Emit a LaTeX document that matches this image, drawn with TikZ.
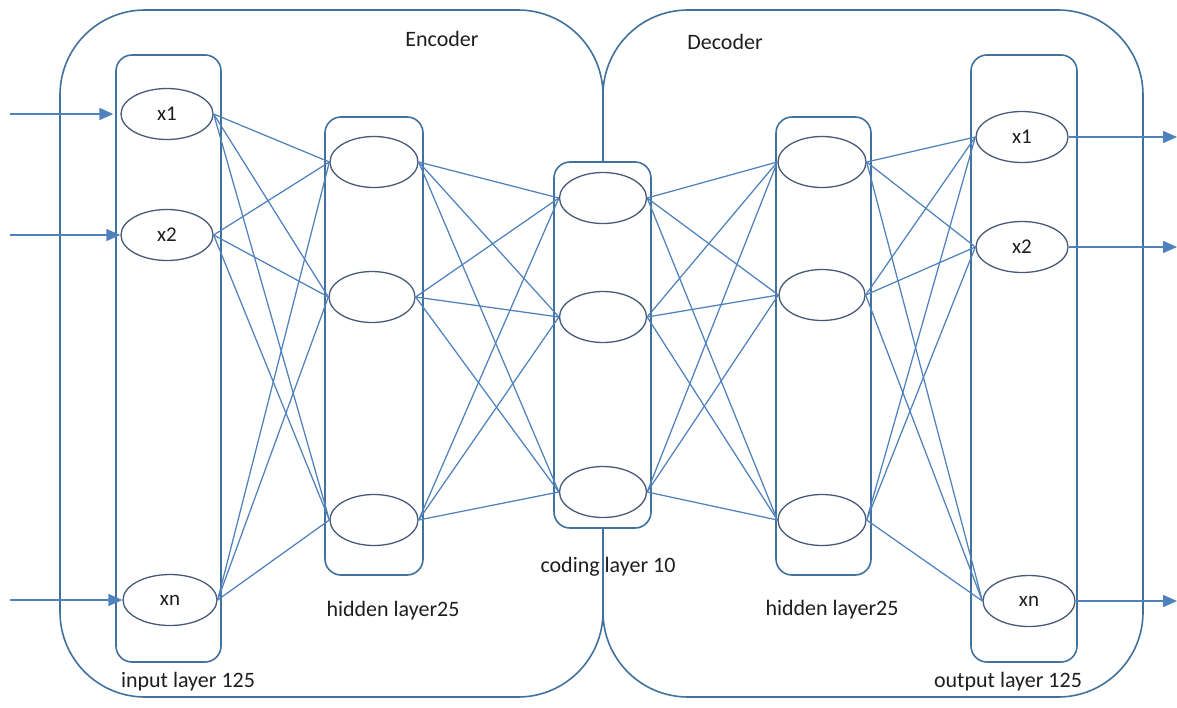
\documentclass[tikz,border=0pt]{standalone}
\usepackage{fontspec}
\setmainfont{Carlito}
\usetikzlibrary{shapes.geometric,arrows.meta}
\definecolor{boxc}{RGB}{65,113,156}
\definecolor{linec}{RGB}{79,129,189}
\definecolor{ellc}{RGB}{72,90,120}
\definecolor{txtc}{RGB}{30,30,30}
\begin{document}
\begin{tikzpicture}[x=1pt,y=-1pt,
  neuron/.style={ellipse, draw=ellc, line width=1.3pt, minimum width=90pt, minimum height=51pt, inner sep=0pt, fill=white, text=txtc, font=\fontsize{21}{23}\selectfont},
  layerbox/.style={draw=boxc, line width=1.6pt, rounded corners=16pt, fill=white},
  bigbox/.style={draw=boxc, line width=1.6pt, rounded corners=85pt},
  conn/.style={draw=linec, line width=1.25pt},
  io/.style={draw=linec, line width=1.6pt, -{Triangle[length=14pt,width=12pt]}},
  lbl/.style={font=\fontsize{22}{24}\selectfont, text=txtc, inner sep=0pt}]
\useasboundingbox (0,0) rectangle (1177,707);
% big encoder / decoder frames
\draw[bigbox] (60,10) rectangle (603,697);
\draw[bigbox] (603,10) rectangle (1143,697);
% layer boxes
\draw[layerbox] (116,55) rectangle (221,662);
\draw[layerbox] (325,117) rectangle (423,575);
\draw[layerbox] (554,162) rectangle (651,528);
\draw[layerbox] (776,117) rectangle (871,575);
\draw[layerbox] (971,55) rectangle (1077,662);
% neurons
\node[neuron, minimum width=92pt] (in1) at (167,114) {x1};
\node[neuron, minimum width=92pt] (in2) at (167,235) {x2};
\node[neuron, minimum width=94pt] (inn) at (170,600) {xn};
\node[neuron, minimum width=88pt] (h1a) at (374,162) {};
\node[neuron, minimum width=86pt] (h1b) at (372,297) {};
\node[neuron, minimum width=88pt] (h1c) at (374,520) {};
\node[neuron, minimum width=87pt] (c1) at (603,198) {};
\node[neuron, minimum width=87pt] (c2) at (603,317) {};
\node[neuron, minimum width=87pt] (c3) at (603,492) {};
\node[neuron, minimum width=88pt] (h2a) at (822,162) {};
\node[neuron, minimum width=86pt] (h2b) at (822,295) {};
\node[neuron, minimum width=88pt] (h2c) at (822,520) {};
\node[neuron, minimum width=92pt] (o1) at (1022,137) {x1};
\node[neuron, minimum width=92pt] (o2) at (1022,247) {x2};
\node[neuron, minimum width=92pt] (on) at (1029,601) {xn};
% connections
\foreach \a in {in1,in2,inn} \foreach \b in {h1a,h1b,h1c} \draw[conn] (\a.east) -- (\b.west);
\foreach \a in {h1a,h1b,h1c} \foreach \b in {c1,c2,c3} \draw[conn] (\a.east) -- (\b.west);
\foreach \a in {c1,c2,c3} \foreach \b in {h2a,h2b,h2c} \draw[conn] (\a.east) -- (\b.west);
\foreach \a in {h2a,h2b,h2c} \foreach \b in {o1,o2,on} \draw[conn] (\a.east) -- (\b.west);
% input / output arrows
\coordinate (s1) at (10,114);
\coordinate (s2) at (10,235);
\coordinate (sn) at (10,600);
\draw[io, shorten >=7pt] (s1) -- (in1.west);
\draw[io] (s2) -- (in2.west);
\draw[io] (sn) -- (inn.west);
\coordinate (e1) at (1177,137);
\coordinate (e2) at (1177,247);
\coordinate (en) at (1177,601);
\draw[io] (o1.east) -- (e1);
\draw[io] (o2.east) -- (e2);
\draw[io] (on.east) -- (en);
% labels
\node[lbl] (enc) at (442,39) {Encoder};
\node[lbl] (dec) at (725,42) {Decoder};
\node[lbl] (linp) at (188,682) {input layer 125};
\node[lbl] (lh1) at (393,611) {hidden layer25};
\node[lbl] (lcod) at (608,567) {coding layer 10};
\node[lbl] (lh2) at (832,610) {hidden layer25};
\node[lbl] (lout) at (1008,682) {output layer 125};
\end{tikzpicture}
\end{document}
